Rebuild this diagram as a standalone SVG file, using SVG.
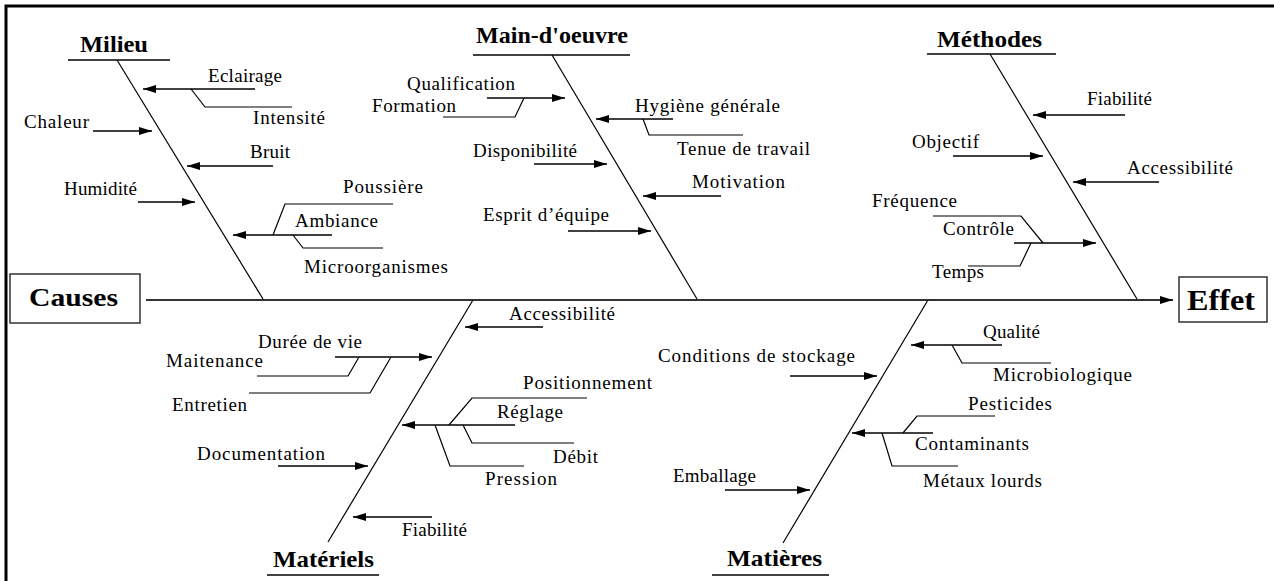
<svg xmlns="http://www.w3.org/2000/svg" width="1274" height="581" viewBox="0 0 1274 581">
<defs>
<marker id="ah" markerUnits="userSpaceOnUse" markerWidth="14" markerHeight="10" refX="13" refY="5" orient="auto">
<path d="M0,1 L13,5 L0,9 z" fill="#000"/>
</marker>
<style>
text{font-family:"Liberation Serif","Times New Roman",serif;fill:#000}
.l{font-size:19px}
.h{font-size:23px;font-weight:bold}
.b{font-size:26px;font-weight:bold}
.ul{stroke:#000;stroke-width:1.3;fill:none}
.sp{stroke:#000;stroke-width:1.2;fill:none}
.ar{stroke:#000;stroke-width:1.5;fill:none;marker-end:url(#ah)}
.sb{stroke:#000;stroke-width:1.2;fill:none}
.box{fill:#fff;stroke:#333;stroke-width:1.5}
</style>
</defs>
<rect width="1274" height="581" fill="#fff"/>
<path d="M6,581 V6 H1274" fill="none" stroke="#000" stroke-width="3"/>

<g id="connectors">
<line x1="146" y1="300" x2="1173" y2="300" stroke="#333" stroke-width="2" marker-end="url(#ah)"/>
<line class="sp" x1="117" y1="60" x2="263" y2="299"/>
<line class="sp" x1="552" y1="55" x2="697" y2="299"/>
<line class="sp" x1="990" y1="54" x2="1137" y2="299"/>
<line class="sp" x1="473" y1="300" x2="328" y2="542"/>
<line class="sp" x1="928" y1="300" x2="783" y2="543"/>
<line class="ar" x1="255" y1="89" x2="143" y2="89"/>
<polyline class="sb" points="191,89 205,107 292,107"/>
<line class="ar" x1="93" y1="131" x2="152" y2="131"/>
<line class="ar" x1="273" y1="166" x2="187" y2="166"/>
<line class="ar" x1="138" y1="202" x2="195" y2="202"/>
<line class="ar" x1="332" y1="235" x2="233" y2="235"/>
<polyline class="sb" points="273,235 285,204 393,204"/>
<polyline class="sb" points="293,235 303,248 383,248"/>
<line class="ar" x1="487" y1="98" x2="565" y2="98"/>
<polyline class="sb" points="443,117 515,117 524,98"/>
<line class="ar" x1="673" y1="119" x2="596" y2="119"/>
<polyline class="sb" points="643,119 649,135 743,135"/>
<line class="ar" x1="534" y1="164" x2="607" y2="164"/>
<line class="ar" x1="721" y1="196" x2="643" y2="196"/>
<line class="ar" x1="568" y1="231" x2="651" y2="231"/>
<line class="ar" x1="1125" y1="115" x2="1033" y2="115"/>
<line class="ar" x1="953" y1="156" x2="1043" y2="156"/>
<line class="ar" x1="1159" y1="182" x2="1073" y2="182"/>
<polyline class="sb" points="933,216 1021,216 1043,243"/>
<line class="ar" x1="1014" y1="243" x2="1096" y2="243"/>
<polyline class="sb" points="968,266 1020,266 1031,243"/>
<line class="ar" x1="543" y1="327" x2="465" y2="327"/>
<line class="ar" x1="335" y1="357" x2="432" y2="357"/>
<polyline class="sb" points="257,376 348,376 359,357"/>
<polyline class="sb" points="249,393 370,393 391,357"/>
<line class="ar" x1="278" y1="466" x2="368" y2="466"/>
<line class="ar" x1="432" y1="517" x2="353" y2="517"/>
<line class="ar" x1="515" y1="425" x2="402" y2="425"/>
<polyline class="sb" points="449,425 472,398 587,398"/>
<polyline class="sb" points="463,425 472,443 574,443"/>
<polyline class="sb" points="435,425 450,466 524,466"/>
<line class="ar" x1="1002" y1="345" x2="911" y2="345"/>
<polyline class="sb" points="952,345 962,363 1051,363"/>
<line class="ar" x1="790" y1="376" x2="877" y2="376"/>
<line class="ar" x1="933" y1="433" x2="852" y2="433"/>
<polyline class="sb" points="903,433 917,416 995,416"/>
<polyline class="sb" points="882,433 892,466 958,466"/>
<line class="ar" x1="725" y1="490" x2="810" y2="490"/>
</g>

<g id="causes">
<rect class="box" x="10" y="274" width="130" height="49"/>
<text class="b" x="29" y="306" textLength="89" lengthAdjust="spacingAndGlyphs">Causes</text>
</g>
<g id="effet">
<rect class="box" x="1179" y="277" width="88" height="45"/>
<text class="b" x="1187" y="310" style="font-size:29px" textLength="68" lengthAdjust="spacingAndGlyphs">Effet</text>
</g>

<g id="milieu">
<text class="h" x="80" y="52" textLength="68" lengthAdjust="spacingAndGlyphs">Milieu</text>
<line class="ul" x1="68" y1="60" x2="170" y2="60"/>
<text class="l" x="208" y="82" textLength="74" lengthAdjust="spacing">Eclairage</text>
<text class="l" x="253" y="124" textLength="72" lengthAdjust="spacing">Intensité</text>
<text class="l" x="24" y="128" textLength="65" lengthAdjust="spacing">Chaleur</text>
<text class="l" x="250" y="158" textLength="40" lengthAdjust="spacing">Bruit</text>
<text class="l" x="64" y="195" textLength="73" lengthAdjust="spacing">Humidité</text>
<text class="l" x="343" y="193" textLength="80" lengthAdjust="spacing">Poussière</text>
<text class="l" x="295" y="227" textLength="83" lengthAdjust="spacing">Ambiance</text>
<text class="l" x="304" y="273" textLength="144" lengthAdjust="spacing">Microorganismes</text>
</g>

<g id="main-oeuvre">
<text class="h" x="476" y="43" textLength="152" lengthAdjust="spacingAndGlyphs">Main-d'oeuvre</text>
<line class="ul" x1="473" y1="55" x2="630" y2="55"/>
<text class="l" x="407" y="90" textLength="108" lengthAdjust="spacing">Qualification</text>
<text class="l" x="372" y="112" textLength="84" lengthAdjust="spacing">Formation</text>
<text class="l" x="635" y="112" textLength="145" lengthAdjust="spacing">Hygiène générale</text>
<text class="l" x="677" y="155" textLength="133" lengthAdjust="spacing">Tenue de travail</text>
<text class="l" x="473" y="157" textLength="104" lengthAdjust="spacing">Disponibilité</text>
<text class="l" x="692" y="188" textLength="93" lengthAdjust="spacing">Motivation</text>
<text class="l" x="483" y="221" textLength="126" lengthAdjust="spacing">Esprit d’équipe</text>
</g>

<g id="methodes">
<text class="h" x="937" y="47" textLength="105" lengthAdjust="spacingAndGlyphs">Méthodes</text>
<line class="ul" x1="927" y1="54" x2="1056" y2="54"/>
<text class="l" x="1087" y="105" textLength="65" lengthAdjust="spacing">Fiabilité</text>
<text class="l" x="912" y="148" textLength="67" lengthAdjust="spacing">Objectif</text>
<text class="l" x="1127" y="174" textLength="106" lengthAdjust="spacing">Accessibilité</text>
<text class="l" x="872" y="207" textLength="85" lengthAdjust="spacing">Fréquence</text>
<text class="l" x="943" y="235" textLength="71" lengthAdjust="spacing">Contrôle</text>
<text class="l" x="932" y="278" textLength="52" lengthAdjust="spacing">Temps</text>
</g>

<g id="materiels">
<text class="h" x="273" y="567" textLength="101" lengthAdjust="spacingAndGlyphs">Matériels</text>
<line class="ul" x1="267" y1="575" x2="379" y2="575"/>
<text class="l" x="509" y="320" textLength="106" lengthAdjust="spacing">Accessibilité</text>
<text class="l" x="258" y="348" textLength="104" lengthAdjust="spacing">Durée de vie</text>
<text class="l" x="166" y="367" textLength="97" lengthAdjust="spacing">Maitenance</text>
<text class="l" x="172" y="411" textLength="75" lengthAdjust="spacing">Entretien</text>
<text class="l" x="197" y="460" textLength="128" lengthAdjust="spacing">Documentation</text>
<text class="l" x="523" y="389" textLength="129" lengthAdjust="spacing">Positionnement</text>
<text class="l" x="497" y="418" textLength="66" lengthAdjust="spacing">Réglage</text>
<text class="l" x="553" y="463" textLength="45" lengthAdjust="spacing">Débit</text>
<text class="l" x="485" y="485" textLength="72" lengthAdjust="spacing">Pression</text>
<text class="l" x="402" y="536" textLength="65" lengthAdjust="spacing">Fiabilité</text>
</g>

<g id="matieres">
<text class="h" x="727" y="566" textLength="95" lengthAdjust="spacingAndGlyphs">Matières</text>
<line class="ul" x1="712" y1="575" x2="829" y2="575"/>
<text class="l" x="983" y="338" textLength="57" lengthAdjust="spacing">Qualité</text>
<text class="l" x="993" y="381" textLength="139" lengthAdjust="spacing">Microbiologique</text>
<text class="l" x="658" y="362" textLength="197" lengthAdjust="spacing">Conditions de stockage</text>
<text class="l" x="968" y="410" textLength="84" lengthAdjust="spacing">Pesticides</text>
<text class="l" x="915" y="450" textLength="114" lengthAdjust="spacing">Contaminants</text>
<text class="l" x="923" y="487" textLength="119" lengthAdjust="spacing">Métaux lourds</text>
<text class="l" x="673" y="482" textLength="83" lengthAdjust="spacing">Emballage</text>
</g>
</svg>
